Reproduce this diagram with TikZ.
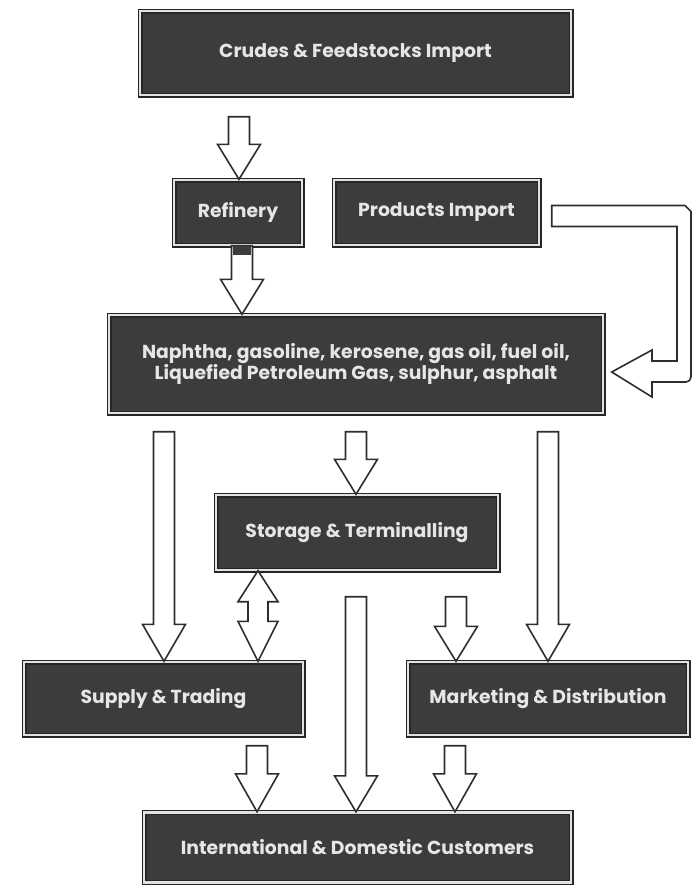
\documentclass[tikz,border=0pt]{standalone}
\usepackage{fontspec}
\setmainfont{Poppins}
\usetikzlibrary{calc}

\definecolor{boxfill}{HTML}{3C3C3C}
\definecolor{boxedge}{HTML}{262626}
\definecolor{boxline}{HTML}{E2E2E2}
\definecolor{boxtext}{HTML}{E6E6E6}
\definecolor{arrowedge}{HTML}{2E2E2E}

% half widths of the block arrows (shaft and head)
\def\arrshaft{10.5pt}
\def\arrhead{21.5pt}

% vertical block arrow: centre x, source anchor, target anchor,
% gap below the source, head length
\newcommand\flowdown[5]{%
  \draw[blockarrow] let \p1=(#2), \p2=(#3) in
    (#1pt-\arrshaft,\y1-#4pt) -- (#1pt+\arrshaft,\y1-#4pt)
    -- (#1pt+\arrshaft,\y2+#5pt) -- (#1pt+\arrhead,\y2+#5pt)
    -- (#1pt,\y2) -- (#1pt-\arrhead,\y2+#5pt)
    -- (#1pt-\arrshaft,\y2+#5pt) -- cycle;}

\begin{document}
\begin{tikzpicture}[x=1pt,y=-1pt,
  flowbox/.style={fill=boxfill, draw=boxedge, line width=1.4pt,
    double=boxline, double distance=2.2pt, text=boxtext,
    font=\bfseries\fontsize{18.8}{19.5}\selectfont, align=center, inner sep=0pt},
  blockarrow/.style={fill=white, draw=arrowedge, line width=1.6pt, line join=miter}]

\fill[white] (0,0) rectangle (692,892);
\useasboundingbox (0,0) rectangle (692,892);

% boxes
\node[flowbox, minimum width=431pt, minimum height=84pt] (crudes) at (355.5,53)
  {Crudes \& Feedstocks Import};
\node[flowbox, minimum width=128pt, minimum height=65pt] (refinery) at (238,212.5)
  {Refinery};
\node[flowbox, minimum width=205pt, minimum height=65pt] (products) at (436.5,212.5)
  {Products Import};
\node[flowbox, minimum width=494pt, minimum height=98pt] (naphtha) at (356,364)
  {Naphtha, gasoline, kerosene, gas oil, fuel oil,\\Liquefied Petroleum Gas, sulphur, asphalt};
\node[flowbox, minimum width=282pt, minimum height=75pt] (storage) at (357,532.5)
  {Storage \& Terminalling};
\node[flowbox, minimum width=279pt, minimum height=73pt] (supply) at (163.5,698.5)
  {Supply \& Trading};
\node[flowbox, minimum width=280pt, minimum height=73pt] (marketing) at (548,698.5)
  {Marketing \& Distribution};
\node[flowbox, minimum width=427pt, minimum height=70pt] (customers) at (357.5,847.5)
  {International \& Domestic Customers};

% straight block arrows
\flowdown{239}{crudes.south}{refinery.north}{21}{35}
\flowdown{242}{refinery.south}{naphtha.north}{0}{35}
\fill[boxfill] let \p1=(refinery.south) in
  (242pt-\arrshaft+1.5pt,\y1) rectangle (242pt+\arrshaft-1.5pt,\y1-9pt);
\flowdown{356}{naphtha.south}{storage.north}{18}{35}
\flowdown{164}{naphtha.south}{supply.north}{18}{37}
\flowdown{548}{naphtha.south}{marketing.north}{18}{37}
\flowdown{356}{storage.south}{customers.north}{26}{36}
\flowdown{456}{storage.south}{marketing.north}{26}{35}
\flowdown{257}{supply.south}{customers.north}{10}{38}
\flowdown{455}{marketing.south}{customers.north}{10}{38}

% two-way arrow between storage and supply
\draw[blockarrow] let \p1=(storage.south), \p2=(supply.north) in
  (258pt,\y1) -- (258pt+20pt,\y1-31pt) -- (258pt+10pt,\y1-31pt)
  -- (258pt+10pt,\y2+40pt) -- (258pt+20pt,\y2+40pt) -- (258pt,\y2)
  -- (258pt-20pt,\y2+40pt) -- (258pt-10pt,\y2+40pt)
  -- (258pt-10pt,\y1-31pt) -- (258pt-20pt,\y1-31pt) -- cycle;

% bent arrow from products import round to the product box
\draw[blockarrow] let \p1=(products.east), \p2=(naphtha.east) in
  (\x1+12pt,\y1+7pt) -- (685pt,\y1+7pt) -- (691pt,\y1+1pt)
  -- (691pt,\y2-13pt) [rounded corners=5pt] -- (691pt,\y2-18pt) [sharp corners]
  -- (652pt,\y2-18pt) -- (652pt,\y2-33pt) -- (\x2+8pt,\y2-8pt)
  -- (652pt,\y2+14pt) -- (652pt,\y2+3pt) -- (677pt,\y2+3pt)
  -- (677pt,\y1-14pt) -- (\x1+12pt,\y1-14pt) -- cycle;
\end{tikzpicture}
\end{document}
